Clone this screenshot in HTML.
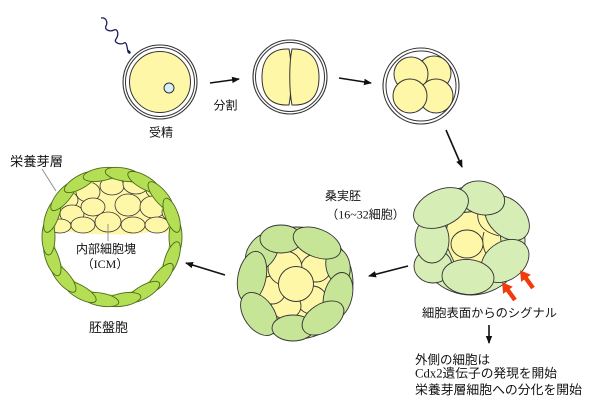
<!DOCTYPE html>
<html><head><meta charset="utf-8"><style>
html,body{margin:0;padding:0;background:#fff;}
svg{display:block;}
.t{font-family:"Liberation Sans","Noto Sans CJK JP",sans-serif;fill:#111;}
.s{font-family:"Liberation Serif","Noto Sans CJK JP",serif;}
</style></head><body>
<svg width="600" height="414" viewBox="0 0 600 414" xmlns="http://www.w3.org/2000/svg">
<defs>
<marker id="ah" markerWidth="8" markerHeight="8" refX="7" refY="4" orient="auto" markerUnits="userSpaceOnUse">
<path d="M0,0.8 L8,4 L0,7.2 Z" fill="#111"/>
</marker>
<clipPath id="bc"><circle cx="112" cy="237" r="58"/></clipPath>
</defs>

<!-- sperm -->
<path d="M101,18 C106,17 108,22 106,26 S110,32 114,30 S119,35 116,39 S121,45 124,43 S127,49 128,51" fill="none" stroke="#1c1c5c" stroke-width="1.3"/>
<ellipse cx="129" cy="52" rx="2" ry="1.4" fill="#1c1c5c" transform="rotate(50 129 52)"/>

<!-- zygote -->
<circle cx="160" cy="82" r="37" fill="#fff" stroke="#333" stroke-width="1.1"/>
<circle cx="160" cy="82" r="34.5" fill="#fff" stroke="#333" stroke-width="1"/>
<circle cx="160" cy="82" r="30.5" fill="#fff7a8" stroke="#333" stroke-width="1"/>
<circle cx="169" cy="88" r="5" fill="#d8eef8" stroke="#333" stroke-width="1"/>

<!-- 2-cell -->
<circle cx="290" cy="77" r="37" fill="#fff" stroke="#333" stroke-width="1.1"/>
<circle cx="290" cy="77" r="34.5" fill="#fff" stroke="#333" stroke-width="1"/>
<path d="M289,49 C268,48 262,63 262,77 C262,93 268,106 289,105 C292,90 292,63 289,49Z" fill="#fff7a8" stroke="#333" stroke-width="1"/>
<path d="M292,49 C313,48 319,63 319,77 C319,93 313,106 292,105 C289,90 289,63 292,49Z" fill="#fff7a8" stroke="#333" stroke-width="1"/>

<!-- 4-cell -->
<circle cx="421" cy="86" r="38" fill="#fff" stroke="#333" stroke-width="1.1"/>
<circle cx="421" cy="86" r="35" fill="#fff" stroke="#333" stroke-width="1"/>
<circle cx="434" cy="73" r="17" fill="#fff7a8" stroke="#333" stroke-width="1"/>
<circle cx="411" cy="74" r="17" fill="#fff7a8" stroke="#333" stroke-width="1"/>
<circle cx="436" cy="96" r="17" fill="#fff7a8" stroke="#333" stroke-width="1"/>
<circle cx="410" cy="96" r="17" fill="#fff7a8" stroke="#333" stroke-width="1"/>

<!-- arrows -->
<g stroke="#111" stroke-width="1.6" fill="none" marker-end="url(#ah)">
<line x1="210" y1="83" x2="239" y2="79"/>
<line x1="339" y1="78" x2="371" y2="83"/>
<line x1="446" y1="130" x2="462" y2="167"/>
<line x1="408" y1="266" x2="369" y2="276"/>
<line x1="225" y1="275" x2="186" y2="263"/>
<line x1="489" y1="325" x2="489" y2="343"/>
</g>

<!-- right morula -->
<g stroke="#333" stroke-width="0.9">
<circle cx="471" cy="241" r="54" fill="#d6edb6"/>
<path d="M450,214 L478,211 L499,224 L502,250 L486,266 L455,264 L444,240 Z" fill="#fff7a8"/>
<path d="M478,211 C476,225 484,232 499,236" fill="none"/>
<path d="M484,232 C480,245 486,256 492,262" fill="none"/>
<ellipse cx="467" cy="244" rx="16" ry="14" fill="#fff7a8"/>
<ellipse cx="433" cy="266" rx="19" ry="17" fill="#d6edb6"/>
<ellipse cx="432" cy="240" rx="17" ry="23" fill="#d6edb6"/>
<ellipse cx="507" cy="218" rx="26" ry="18" fill="#d6edb6" transform="rotate(45 507 218)"/>
<ellipse cx="482" cy="198" rx="23" ry="16.5" fill="#d6edb6" transform="rotate(15 482 198)"/>
<ellipse cx="441" cy="208" rx="29" ry="18" fill="#d6edb6" transform="rotate(-25 441 208)"/>
<ellipse cx="505" cy="261" rx="26" ry="19" fill="#d6edb6" transform="rotate(-35 505 261)"/>
<ellipse cx="468" cy="277" rx="26" ry="17.5" fill="#d6edb6" transform="rotate(5 468 277)"/>
</g>

<!-- red arrows -->
<polygon points="0,-2.2 12,-2.2 12,-6 22,0 12,6 12,2.2 0,2.2" fill="#f03c0c" transform="translate(515,300) rotate(-126)"/>
<polygon points="0,-2.2 12,-2.2 12,-6 22,0 12,6 12,2.2 0,2.2" fill="#f03c0c" transform="translate(533,288) rotate(-126)"/>

<!-- middle morula -->
<g stroke="#333" stroke-width="0.9">
<circle cx="297" cy="283" r="56" fill="#c6e597"/>
<circle cx="296" cy="282" r="38" fill="#fff7a8"/>
<ellipse cx="316" cy="268" rx="15" ry="14" fill="#fff7a8"/>
<ellipse cx="312" cy="300" rx="15" ry="14" fill="#fff7a8"/>
<ellipse cx="286" cy="306" rx="15" ry="13" fill="#fff7a8"/>
<ellipse cx="272" cy="290" rx="14" ry="14" fill="#fff7a8"/>
<circle cx="285" cy="268" r="17" fill="#fff7a8"/>
<circle cx="296" cy="284" r="17.5" fill="#fff7a8"/>
<ellipse cx="262" cy="252" rx="14" ry="21" fill="#c6e597" transform="rotate(35 262 252)"/>
<ellipse cx="281" cy="239" rx="21" ry="14" fill="#c6e597"/>
<ellipse cx="338" cy="266" rx="12" ry="18" fill="#c6e597" transform="rotate(-10 338 266)"/>
<ellipse cx="317" cy="243" rx="25" ry="14" fill="#c6e597" transform="rotate(22 317 243)"/>
<ellipse cx="338" cy="296" rx="14" ry="24" fill="#c6e597" transform="rotate(15 338 296)"/>
<ellipse cx="252" cy="277" rx="14" ry="26" fill="#c6e597" transform="rotate(12 252 277)"/>
<ellipse cx="259" cy="314" rx="15" ry="24" fill="#c6e597" transform="rotate(-35 259 314)"/>
<ellipse cx="293" cy="328" rx="21" ry="13" fill="#c6e597"/>
<ellipse cx="323" cy="318" rx="23" ry="14" fill="#c6e597" transform="rotate(-32 323 318)"/>
</g>

<!-- blastocyst -->
<g clip-path="url(#bc)" stroke="#333" stroke-width="0.8">
<path d="M40,165 L190,165 L190,228 Q170,235 150,232 Q130,236 110,234 Q90,235 70,232 Q55,232 40,227 Z" fill="#fff7a8" stroke="none"/>
<ellipse cx="66" cy="200" rx="12" ry="9" fill="#fff7a8"/>
<ellipse cx="88" cy="192" rx="12" ry="10" fill="#fff7a8"/>
<ellipse cx="112" cy="186" rx="12" ry="9" fill="#fff7a8"/>
<ellipse cx="136" cy="184" rx="13" ry="10" fill="#fff7a8"/>
<ellipse cx="158" cy="190" rx="12" ry="9" fill="#fff7a8"/>
<ellipse cx="72" cy="214" rx="12" ry="9" fill="#fff7a8"/>
<ellipse cx="93" cy="207" rx="12" ry="9" fill="#fff7a8"/>
<ellipse cx="128" cy="205" rx="13" ry="11" fill="#fff7a8"/>
<ellipse cx="153" cy="207" rx="13" ry="11" fill="#fff7a8"/>
<ellipse cx="172" cy="212" rx="10" ry="9" fill="#fff7a8"/>
<ellipse cx="60" cy="226" rx="11" ry="7" fill="#fff7a8"/>
<ellipse cx="83" cy="225" rx="12" ry="8" fill="#fff7a8"/>
<ellipse cx="133" cy="225" rx="12" ry="8" fill="#fff7a8"/>
<ellipse cx="157" cy="225" rx="12" ry="8" fill="#fff7a8"/>
<ellipse cx="108" cy="222" rx="13" ry="10" fill="#fff7a8"/>
</g>
<circle cx="112" cy="237" r="63.5" fill="none" stroke="#b4df55" stroke-width="12"/>
<g fill="#b4df55" stroke="#4a6a1a" stroke-width="0.9">
<ellipse cx="175.5" cy="237" rx="6.5" ry="18" transform="rotate(0 112 237)"/>
<ellipse cx="175.5" cy="237" rx="6.5" ry="18" transform="rotate(20 112 237)"/>
<ellipse cx="175.5" cy="237" rx="6.5" ry="18" transform="rotate(40 112 237)"/>
<ellipse cx="175.5" cy="237" rx="6.5" ry="18" transform="rotate(60 112 237)"/>
<ellipse cx="175.5" cy="237" rx="6.5" ry="18" transform="rotate(80 112 237)"/>
<ellipse cx="175.5" cy="237" rx="6.5" ry="18" transform="rotate(100 112 237)"/>
<ellipse cx="175.5" cy="237" rx="6.5" ry="18" transform="rotate(120 112 237)"/>
<ellipse cx="175.5" cy="237" rx="6.5" ry="18" transform="rotate(140 112 237)"/>
<ellipse cx="175.5" cy="237" rx="6.5" ry="18" transform="rotate(160 112 237)"/>
<ellipse cx="175.5" cy="237" rx="6.5" ry="18" transform="rotate(180 112 237)"/>
<ellipse cx="175.5" cy="237" rx="6.5" ry="18" transform="rotate(200 112 237)"/>
<ellipse cx="175.5" cy="237" rx="6.5" ry="18" transform="rotate(220 112 237)"/>
<ellipse cx="175.5" cy="237" rx="6.5" ry="18" transform="rotate(240 112 237)"/>
<ellipse cx="175.5" cy="237" rx="6.5" ry="18" transform="rotate(260 112 237)"/>
<ellipse cx="175.5" cy="237" rx="6.5" ry="18" transform="rotate(280 112 237)"/>
<ellipse cx="175.5" cy="237" rx="6.5" ry="18" transform="rotate(300 112 237)"/>
<ellipse cx="175.5" cy="237" rx="6.5" ry="18" transform="rotate(320 112 237)"/>
<ellipse cx="175.5" cy="237" rx="6.5" ry="18" transform="rotate(340 112 237)"/>
</g>

<!-- leader lines -->
<line x1="42" y1="169" x2="56" y2="191" stroke="#888" stroke-width="0.9"/>
<line x1="108" y1="224" x2="108" y2="241" stroke="#888" stroke-width="0.9"/>

<!-- labels -->
<text class="t" x="161" y="136.5" font-size="12" text-anchor="middle">受精</text>
<text class="t" x="225.5" y="109.5" font-size="12" text-anchor="middle">分割</text>
<text class="t" x="10" y="166" font-size="13" textLength="53" lengthAdjust="spacingAndGlyphs">栄養芽層</text>
<text class="t" x="106" y="253" font-size="12" text-anchor="middle">内部細胞塊</text>
<text class="t" x="105" y="268" font-size="12" text-anchor="middle">（<tspan class="s">ICM</tspan>）</text>
<text class="t" x="108.5" y="332" font-size="13" text-anchor="middle">胚盤胞</text>
<text class="t" x="343" y="200" font-size="12" text-anchor="middle">桑実胚</text>
<text class="t" x="365.5" y="218.5" font-size="12" text-anchor="middle">（<tspan class="s">16~32</tspan>細胞）</text>
<text class="t" x="422" y="317" font-size="12" textLength="135" lengthAdjust="spacingAndGlyphs">細胞表面からのシグナル</text>
<text class="t" x="415" y="364" font-size="12.5">外側の細胞は</text>
<text class="t" x="415" y="377.5" font-size="12.5" textLength="142" lengthAdjust="spacingAndGlyphs"><tspan class="s">Cdx2</tspan>遺伝子の発現を開始</text>
<text class="t" x="415" y="394" font-size="12.5" textLength="167" lengthAdjust="spacingAndGlyphs">栄養芽層細胞への分化を開始</text>
</svg>
</body></html>
